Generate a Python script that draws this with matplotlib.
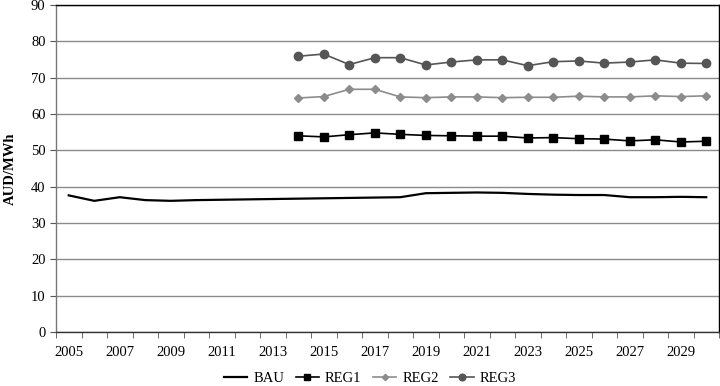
import matplotlib
matplotlib.use("Agg")
import matplotlib.pyplot as plt
import numpy as np

years = list(range(2005, 2031))
bau = [37.6, 36.1, 37.1, 36.3, 36.1, 36.3, 36.4, 36.5, 36.6, 36.7, 36.8, 36.9, 37.0, 37.1, 38.2, 38.3, 38.4, 38.3, 38.0, 37.8, 37.7, 37.7, 37.1, 37.1, 37.2, 37.1]
reg_years = list(range(2014, 2031))
reg1 = [54.0, 53.7, 54.3, 54.8, 54.4, 54.1, 54.0, 53.9, 53.9, 53.4, 53.5, 53.2, 53.1, 52.6, 52.9, 52.3, 52.5]
reg2 = [64.4, 64.8, 66.8, 66.8, 64.7, 64.5, 64.7, 64.7, 64.5, 64.6, 64.6, 64.9, 64.7, 64.7, 65.0, 64.8, 65.0]
reg3 = [75.9, 76.5, 73.6, 75.5, 75.5, 73.5, 74.3, 74.9, 74.9, 73.3, 74.4, 74.6, 74.0, 74.3, 74.9, 74.0, 73.9]
yticks = list(range(0, 91, 10))
xlabels = [str(y) for y in range(2005, 2030, 2)]

plt.rcParams['font.family'] = ['Liberation Serif', 'DejaVu Serif']
fig = plt.figure(figsize=(7.2, 3.86), dpi=100)
ax = fig.add_axes([56/720, 1-332/386, 663/720, 327/386])

xi = np.arange(len(years))
ri = np.array([years.index(y) for y in reg_years])

ax.plot(xi, bau, color='black', lw=1.6, label='BAU', zorder=3)
ax.plot(ri, reg1, color='black', lw=1.2, marker='s', ms=5.5, label='REG1', zorder=3)
ax.plot(ri, reg2, color='#8c8c8c', lw=1.2, marker='D', ms=4, label='REG2', zorder=3)
ax.plot(ri, reg3, color='#555555', lw=1.2, marker='o', ms=6, label='REG3', zorder=3)

ax.set_xlim(-0.5, len(years) - 0.5)
ax.set_ylim(0, 90)
ax.set_yticks(yticks)
ax.yaxis.grid(True, color='#8a8a8a', lw=1.0)
ax.set_axisbelow(True)

ax.set_xticks([years.index(int(l)) for l in xlabels])
ax.set_xticklabels(xlabels)
ax.set_xticks(np.arange(-0.5, len(years), 1), minor=True)
ax.tick_params(axis='x', which='major', length=0, labelsize=10.5, pad=10)
ax.tick_params(axis='x', which='minor', length=4, direction='out', color='#555555')
ax.tick_params(axis='y', length=4, direction='out', labelsize=10.5, color='#555555')

ax.spines['left'].set_color('#777777')
ax.spines['bottom'].set_color('#333333')
for s in ['top', 'right']:
    ax.spines[s].set_color('black')
for s in ax.spines.values():
    s.set_linewidth(1.0)

ax.set_ylabel('AUD/MWh', fontweight='bold', fontsize=10.5, labelpad=10)

leg = fig.legend(*ax.get_legend_handles_labels(), loc='center', bbox_to_anchor=(370/720, 1-378/386),
                 ncol=4, frameon=False, fontsize=10.5, handlelength=1.6, columnspacing=0.8,
                 handletextpad=0.4, markerscale=0.8)

fig.savefig('out.png', dpi=100)
